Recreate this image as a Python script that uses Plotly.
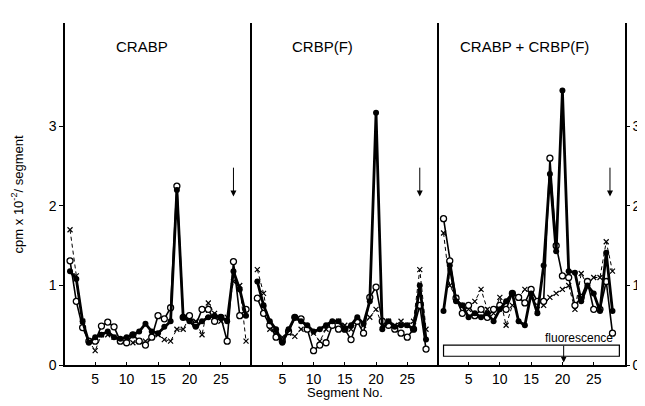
import plotly.graph_objects as go

# ---------------- data ----------------
panel_titles = ["CRABP", "CRBP(F)", "CRABP + CRBP(F)"]
x_ticks = [5, 10, 15, 20, 25]
y_ticks = [0, 1, 2, 3]

seg_p1 = list(range(1, 30))
p1_filled = [1.18, 1.08, 0.55, 0.28, 0.35, 0.38, 0.42, 0.35, 0.33, 0.35, 0.38, 0.42, 0.52, 0.42, 0.40,
             0.48, 0.55, 2.20, 0.60, 0.55, 0.48, 0.55, 0.60, 0.62, 0.60, 0.55, 1.18, 0.95, 0.62]
p1_open = [1.31, 0.80, 0.47, 0.30, 0.30, 0.49, 0.54, 0.48, 0.30, 0.28, 0.38, 0.30, 0.25, 0.35, 0.62,
           0.58, 0.72, 2.25, 0.60, 0.62, 0.50, 0.70, 0.70, 0.55, 0.60, 0.30, 1.30, 0.62, 0.70]
p1_cross = [1.70, 1.12, 0.55, 0.30, 0.18, 0.38, 0.38, 0.35, 0.30, 0.28, 0.28, 0.30, 0.30, 0.35, 0.38,
            0.32, 0.30, 0.45, 0.45, 0.60, 0.55, 0.38, 0.78, 0.65, 0.55, 0.60, 1.05, 1.00, 0.30]

seg_p2 = list(range(1, 29))
p2_filled = [1.05, 0.75, 0.55, 0.45, 0.28, 0.45, 0.60, 0.55, 0.50, 0.42, 0.45, 0.50, 0.55, 0.55,
             0.45, 0.50, 0.60, 0.52, 0.80, 3.17, 0.45, 0.55, 0.48, 0.50, 0.50, 0.45, 1.00, 0.32]
p2_open = [0.84, 0.65, 0.50, 0.35, 0.30, 0.42, 0.60, 0.58, 0.45, 0.18, 0.25, 0.28, 0.50, 0.45,
           0.45, 0.32, 0.55, 0.40, 0.85, 0.98, 0.55, 0.50, 0.45, 0.40, 0.35, 0.45, 0.75, 0.20]
p2_cross = [1.20, 0.90, 0.45, 0.40, 0.35, 0.40, 0.36, 0.45, 0.45, 0.40, 0.30, 0.45, 0.50, 0.55,
            0.50, 0.45, 0.55, 0.50, 0.60, 0.70, 0.50, 0.55, 0.50, 0.55, 0.50, 0.55, 1.20, 0.45]

seg_p3 = list(range(1, 29))
p3_filled = [0.68, 1.25, 0.80, 0.75, 0.60, 0.65, 0.60, 0.65, 0.55, 0.70, 0.80, 0.90, 0.55, 0.50,
             0.90, 0.65, 1.25, 2.40, 1.43, 3.45, 1.18, 1.16, 0.80, 1.00, 0.90, 0.68, 1.41, 0.68]
p3_open = [1.84, 1.31, 0.84, 0.65, 0.75, 0.62, 0.70, 0.60, 0.70, 0.75, 0.70, 0.90, 0.85, 0.78,
           0.95, 0.80, 0.80, 2.60, 1.50, 1.12, 1.10, 0.75, 0.85, 1.05, 0.70, 0.70, 1.05, 0.40]
p3_cross = [1.66, 1.00, 0.85, 0.75, 0.70, 0.80, 0.95, 0.70, 0.65, 0.85, 0.50, 0.75, 0.85, 0.95,
            0.90, 0.70, 0.75, 0.85, 0.90, 0.95, 1.00, 0.70, 1.15, 1.00, 1.10, 1.10, 1.55, 1.18]

panels = [
    (seg_p1, p1_filled, p1_open, p1_cross),
    (seg_p2, p2_filled, p2_open, p2_cross),
    (seg_p3, p3_filled, p3_open, p3_cross),
]

# ---------------- figure ----------------
FONT = "Liberation Sans, Arial, sans-serif"
fig = go.Figure()
domains = [[0.0, 0.3345], [0.3345, 0.667], [0.667, 1.0]]
XR = [0.2, 30]
YR = [0, 4.3]

for i, (seg, fil, opn, crs) in enumerate(panels):
    xa = "x" if i == 0 else f"x{i+1}"
    ya = "y" if i == 0 else f"y{i+1}"
    fig.add_trace(go.Scatter(x=seg, y=crs, mode="lines+markers", xaxis=xa, yaxis=ya,
                             line=dict(color="black", width=1, dash="4px,3px"),
                             marker=dict(symbol="x-thin", size=5, line=dict(color="black", width=1.2)),
                             showlegend=False))
    fig.add_trace(go.Scatter(x=seg, y=opn, mode="lines+markers", xaxis=xa, yaxis=ya,
                             line=dict(color="black", width=1.6),
                             marker=dict(symbol="circle", size=6, color="white",
                                         line=dict(color="black", width=1.3)),
                             showlegend=False))
    fig.add_trace(go.Scatter(x=seg, y=fil, mode="lines+markers", xaxis=xa, yaxis=ya,
                             line=dict(color="black", width=2.8),
                             marker=dict(symbol="circle", size=6, color="black"),
                             showlegend=False))

# invisible trace for right axis
fig.add_trace(go.Scatter(x=[1], y=[0], xaxis="x3", yaxis="y4", mode="markers",
                         marker=dict(opacity=0), showlegend=False, hoverinfo="skip"))

axis_common = dict(showgrid=False, zeroline=False, linecolor="black", linewidth=1.5,
                   tickfont=dict(family=FONT, size=14, color="black"))

layout = dict(
    width=645, height=406,
    margin=dict(l=57, r=17, t=15, b=49),
    paper_bgcolor="white", plot_bgcolor="white",
    font=dict(family=FONT, color="black"),
)
for i in range(3):
    xk = "xaxis" if i == 0 else f"xaxis{i+1}"
    yk = "yaxis" if i == 0 else f"yaxis{i+1}"
    ya = "y" if i == 0 else f"y{i+1}"
    xa = "x" if i == 0 else f"x{i+1}"
    layout[xk] = dict(axis_common, domain=domains[i], range=XR, anchor=ya,
                      showline=True, tickmode="array", tickvals=x_ticks,
                      ticks="inside", ticklen=3, tickcolor="black")
    layout[yk] = dict(axis_common, domain=[0, 1], range=YR, anchor=xa,
                      showline=True, tickmode="array", tickvals=y_ticks,
                      ticks="outside" if i == 0 else "", ticklen=4, tickcolor="black",
                      showticklabels=(i == 0))
layout["yaxis4"] = dict(axis_common, range=YR, overlaying="y3", side="right", anchor="x3",
                        showline=True, tickmode="array", tickvals=y_ticks,
                        ticks="outside", ticklen=3, tickcolor="black", ticklabelstandoff=0)
fig.update_layout(**layout)

annotations = []
title_x = [12.5, 11.5, 14]
for i, t in enumerate(panel_titles):
    xr = "x" if i == 0 else f"x{i+1}"
    yr = "y" if i == 0 else f"y{i+1}"
    annotations.append(dict(text=t, x=title_x[i], y=4.0, xref=xr, yref=yr, showarrow=False,
                            font=dict(family=FONT, size=15, color="black")))
# arrows marking the front
arrow_x = [27, 27, 27.6]
for i in range(3):
    xr = "x" if i == 0 else f"x{i+1}"
    yr = "y" if i == 0 else f"y{i+1}"
    annotations.append(dict(x=arrow_x[i], y=2.12, ax=arrow_x[i], ay=2.5, xref=xr, yref=yr,
                            axref=xr, ayref=yr, text="", showarrow=True, arrowhead=2,
                            arrowsize=1.2, arrowwidth=1, arrowcolor="black"))
# fluorescence arrow and label
annotations.append(dict(x=20.2, y=0.03, ax=20.2, ay=0.26, xref="x3", yref="y3", axref="x3", ayref="y3",
                        text="", showarrow=True, arrowhead=2, arrowsize=1.1, arrowwidth=1,
                        arrowcolor="black"))
annotations.append(dict(text="fluorescence", x=22.7, y=0.34, xref="x3", yref="y3", showarrow=False,
                        font=dict(family=FONT, size=12, color="black")))
# axis titles
annotations.append(dict(text="cpm x 10<sup>-2</sup>/ segment", x=-0.085, y=0.5, xref="paper",
                        yref="paper", xanchor="center", yanchor="middle", textangle=-90,
                        showarrow=False, font=dict(family=FONT, size=13, color="black")))
annotations.append(dict(text="Segment No.", x=0.5, y=-0.08, xref="paper", yref="paper",
                        xanchor="center", yanchor="middle", showarrow=False,
                        font=dict(family=FONT, size=13, color="black")))
fig.update_layout(annotations=annotations)

fig.add_shape(type="rect", x0=1.0, x1=29.1, y0=0.11, y1=0.25, xref="x3", yref="y3",
              line=dict(color="black", width=1.2), fillcolor="rgba(0,0,0,0)")

fig.write_html("out.html")
